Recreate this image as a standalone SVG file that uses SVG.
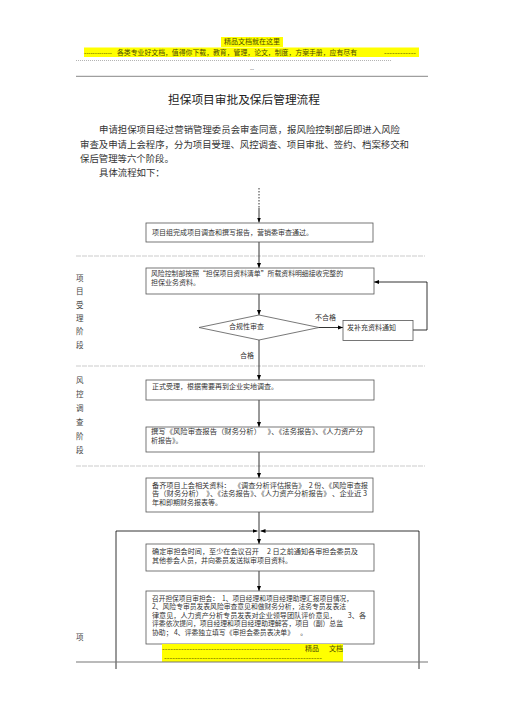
<svg xmlns="http://www.w3.org/2000/svg" width="505" height="714" viewBox="0 0 505 714">
<style>
text{font-family:"Noto Sans CJK SC","Liberation Sans",sans-serif;}
.hd{font-size:7px;fill:#4a4a00;}
.ti{font-size:11.7px;fill:#222;}
.pa{font-size:9.4px;fill:#333;}
.bx{font-size:7px;fill:#333;}
.st{font-size:7.5px;fill:#444;}
.box{fill:#fff;stroke:#555;stroke-width:0.8;}
.sep{stroke:#aaa;stroke-width:0.6;stroke-dasharray:5 1;fill:none;}
.con{stroke:#000;stroke-width:0.8;fill:none;}
.arr{marker-end:url(#ah);}
</style>
<defs>
<marker id="ah" viewBox="0 0 10 10" refX="10" refY="5" markerWidth="5" markerHeight="5" markerUnits="userSpaceOnUse" orient="auto">
<path d="M0,1 L10,5 L0,9 z" fill="#000"/>
</marker>
</defs>
<rect width="505" height="714" fill="#fff"/>

<g id="header">
<rect x="221" y="37" width="62" height="10" fill="#ffff00"/>
<rect x="84" y="47.5" width="335" height="9.5" fill="#ffff00"/>
<text class="hd" x="252" y="44.2" text-anchor="middle">精品文档就在这里</text>
<text class="hd" x="84" y="54.7" textLength="28" lengthAdjust="spacingAndGlyphs">-------------</text>
<text class="hd" x="117" y="54.7" textLength="240" lengthAdjust="spacingAndGlyphs">各类专业好文档，值得你下载，教育，管理，论文，制度，方案手册，应有尽有</text>
<text class="hd" x="384" y="54.7" textLength="32" lengthAdjust="spacingAndGlyphs">------------</text>
<line x1="76" y1="60.5" x2="391" y2="60.5" stroke="#666" stroke-width="0.5" stroke-dasharray="1 1"/>
<text x="252" y="71" font-size="6" fill="#555" text-anchor="middle">--</text>
<line x1="76" y1="76.3" x2="428" y2="76.3" stroke="#888" stroke-width="1"/>
</g>

<g id="title">
<text class="ti" x="244" y="104.2" text-anchor="middle">担保项目审批及保后管理流程</text>
</g>

<g id="intro">
<text class="pa" x="99" y="133.4" textLength="301" lengthAdjust="spacingAndGlyphs">申请担保项目经过营销管理委员会审查同意，报风险控制部后即进入风险</text>
<text class="pa" x="80" y="147.9" textLength="329" lengthAdjust="spacingAndGlyphs">审查及申请上会程序，分为项目受理、风控调查、项目审批、签约、档案移交和</text>
<text class="pa" x="80" y="162.4">保后管理等六个阶段。</text>
<text class="pa" x="99" y="176.4">具体流程如下：</text>
</g>

<g id="separators">
<line class="sep" x1="76" y1="256" x2="425" y2="256"/>
<line class="sep" x1="76" y1="366" x2="425" y2="366"/>
<line class="sep" x1="76" y1="466" x2="425" y2="466"/>
</g>

<g id="stage1">
<text class="st" x="76" y="280.7">项</text>
<text class="st" x="76" y="294.1">目</text>
<text class="st" x="76" y="307.5">受</text>
<text class="st" x="76" y="320.9">理</text>
<text class="st" x="76" y="334.3">阶</text>
<text class="st" x="76" y="347.7">段</text>
</g>
<g id="stage2">
<text class="st" x="76" y="382.7">风</text>
<text class="st" x="76" y="396.7">控</text>
<text class="st" x="76" y="410.7">调</text>
<text class="st" x="76" y="424.7">查</text>
<text class="st" x="76" y="438.7">阶</text>
<text class="st" x="76" y="452.7">段</text>
</g>
<g id="stage3">
<text class="st" x="76" y="639.7">项</text>
</g>

<g id="connectors">
<path d="M259,188 V208" stroke="#000" stroke-width="0.8" stroke-dasharray="1.5 1.5" fill="none"/>
<path class="con arr" d="M259,208 V222.5"/>
<path class="con arr" d="M259,242 V268"/>
<path class="con arr" d="M259,294 V315"/>
<path class="con arr" d="M319,327.5 H343"/>
<path class="con arr" d="M413,330 H427 V282 H374"/>
<path class="con arr" d="M259,340 V380"/>
<path class="con arr" d="M259,400 V427"/>
<path class="con arr" d="M259,452 V478"/>
<path class="con arr" d="M259,512 V544"/>
<path class="con arr" d="M116,669 V531 H257.5"/>
<path class="con arr" d="M419,669 V531 H260.5"/>
<path class="con arr" d="M259,571 V591"/>
</g>

<g id="n1">
<rect class="box" x="146" y="223" width="227" height="19"/>
<text class="bx" x="152" y="234.5">项目组完成项目调查和撰写报告，营销委审查通过。</text>
</g>

<g id="n2">
<rect class="box" x="146" y="268" width="228" height="26"/>
<text class="bx" x="151" y="276" textLength="192" lengthAdjust="spacingAndGlyphs">风险控制部按照“担保项目资料清单”所载资料明细接收完整的</text>
<text class="bx" x="151" y="284.8">担保业务资料。</text>
</g>

<g id="n3">
<polygon points="199,327.5 259,315 319,327.5 259,340" fill="#fff" stroke="#555" stroke-width="0.8"/>
<text class="bx" x="229" y="328.7">合规性审查</text>
</g>

<g id="n4">
<rect class="box" x="343" y="320.5" width="70" height="20"/>
<text class="bx" x="347" y="329.5">发补充资料通知</text>
</g>

<g id="labels">
<text class="bx" x="315" y="319.5">不合格</text>
<text class="bx" x="240" y="357.5">合格</text>
</g>

<g id="n5">
<rect class="box" x="146" y="380" width="228" height="20"/>
<text class="bx" x="152" y="388.5">正式受理，根据需要再到企业实地调查。</text>
</g>

<g id="n6">
<rect class="box" x="146" y="427" width="228" height="25"/>
<text class="bx" x="151" y="434" textLength="212" lengthAdjust="spacingAndGlyphs" xml:space="preserve">撰写《风险审查报告（财务分析）    》、《法务报告》、《人力资产分</text>
<text class="bx" x="151" y="442.8">析报告》。</text>
</g>

<g id="n7">
<rect class="box" x="146" y="478" width="227" height="34"/>
<text class="bx" x="152" y="487.5" textLength="216" lengthAdjust="spacingAndGlyphs" xml:space="preserve">备齐项目上会相关资料：  《调查分析评估报告》  2 份、《风险审查报</text>
<text class="bx" x="152" y="496" textLength="215" lengthAdjust="spacingAndGlyphs" xml:space="preserve">告（财务分析）  》、《法务报告》、《人力资产分析报告》 、企业近 3</text>
<text class="bx" x="152" y="504.5">年和即期财务报表等。</text>
</g>

<g id="n8">
<rect class="box" x="146" y="544" width="228" height="27"/>
<text class="bx" x="152" y="554" textLength="206" lengthAdjust="spacingAndGlyphs" xml:space="preserve">确定审担会时间，至少在会议召开     2 日之前通知各审担会委员及</text>
<text class="bx" x="152" y="562.5">其他参会人员，并向委员发送拟审项目资料。</text>
</g>

<g id="n9">
<rect class="box" x="146" y="591" width="228" height="53"/>
<text class="bx" x="152" y="600.5" textLength="201" lengthAdjust="spacingAndGlyphs" xml:space="preserve">召开担保项目审担会：  1、项目经理和项目经理助理汇报项目情况，</text>
<text class="bx" x="152" y="609" textLength="194" lengthAdjust="spacingAndGlyphs">2、风险专审员发表风险审查意见和做财务分析，法务专员发表法</text>
<text class="bx" x="152" y="617.5" textLength="214" lengthAdjust="spacingAndGlyphs" xml:space="preserve">律意见，人力资产分析专员发表对企业领导团队评价意见，       3、各</text>
<text class="bx" x="152" y="626" textLength="191" lengthAdjust="spacingAndGlyphs">评委依次提问，项目经理和项目经理助理解答，项目（副）总监</text>
<text class="bx" x="152" y="634.5" textLength="155" lengthAdjust="spacingAndGlyphs" xml:space="preserve">协助； 4、评委独立填写《审担会委员表决单》    。</text>
</g>

<g id="footer">
<rect x="162" y="644" width="181" height="18" fill="#ffff00"/>
<text class="hd" x="162" y="650.5" textLength="128" lengthAdjust="spacingAndGlyphs">-----------------------------------------------</text>
<text class="hd" x="305" y="650.5">精品</text>
<text class="hd" x="329" y="650.5">文档</text>
<text class="hd" x="164" y="659.5" textLength="158" lengthAdjust="spacingAndGlyphs">----------------------------------------------------------</text>
<line x1="76" y1="662" x2="428" y2="662" stroke="#777" stroke-width="1.2"/>
</g>
</svg>
